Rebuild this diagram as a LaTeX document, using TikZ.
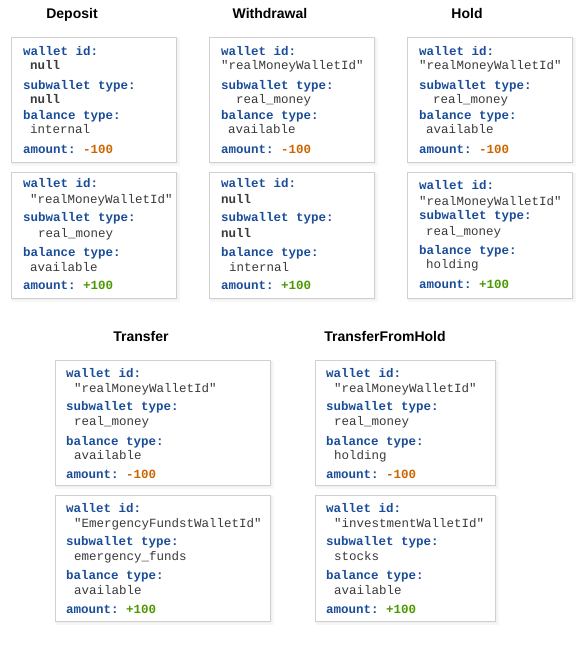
\documentclass[tikz,border=0pt]{standalone}
\usepackage{fontspec}
\setmainfont{Liberation Sans}
\setmonofont{Liberation Mono}
\usetikzlibrary{calc}
\definecolor{keyblue}{HTML}{1A4D99}
\definecolor{valgray}{HTML}{3A3A3A}
\definecolor{negorange}{HTML}{CC6600}
\definecolor{posgreen}{HTML}{4D9900}
\definecolor{boxborder}{HTML}{D0D0D0}
\tikzset{
 title/.style={font=\fontsize{14}{16}\selectfont\bfseries, text=black, anchor=base, inner sep=0},
 card/.style={draw=boxborder, line width=0.9pt, fill=white, anchor=north west, inner sep=0},
 keytxt/.style={font=\ttfamily\bfseries\fontsize{12.5}{14}\selectfont, text=keyblue, anchor=base west, inner sep=0},
 valtxt/.style={font=\ttfamily\fontsize{12.5}{14}\selectfont, text=valgray, anchor=base west, inner sep=0},
 nulltxt/.style={valtxt, font=\ttfamily\bfseries\fontsize{12.5}{14}\selectfont},
}
\newcommand\card[5]{%
 \fill[black!3] (#2+1,#3+1) rectangle (#4+4,#5+4);
 \fill[black!6] (#2+1,#3+1) rectangle (#4+2,#5+2);
 \node[card, minimum width=#4-#2, minimum height=#5-#3] (#1) at (#2,#3) {};}
\newcommand\kv[5]{\node[#4] (#1) at (#2,#3) {#5};}
\begin{document}
\begin{tikzpicture}[x=1pt,y=-1pt]
\useasboundingbox (0,0) rectangle (579,648);
\fill[white] (0,0) rectangle (579,648);
% titles
\node[title] (tdep) at (72,18) {Deposit};
\node[title] (twd) at (270,18) {Withdrawal};
\node[title] (thold) at (467,18) {Hold};
\node[title] (ttr) at (141,341) {Transfer};
\node[title] (ttfh) at (385,341) {TransferFromHold};
% Deposit
\card{d1}{11}{37}{176}{162}
\kv{d1a}{23}{55}{keytxt}{wallet id:}
\kv{d1b}{30}{69}{nulltxt}{null}
\kv{d1c}{23}{89}{keytxt}{subwallet type:}
\kv{d1d}{30}{103}{nulltxt}{null}
\kv{d1e}{23}{119}{keytxt}{balance type:}
\kv{d1f}{30}{133}{valtxt}{internal}
\kv{d1g}{23}{153}{keytxt}{amount: \textcolor{negorange}{-100}}
\card{d2}{11}{172}{176}{298}
\kv{d2a}{23}{187}{keytxt}{wallet id:}
\kv{d2b}{30}{203}{valtxt}{"realMoneyWalletId"}
\kv{d2c}{23}{221}{keytxt}{subwallet type:}
\kv{d2d}{38}{237}{valtxt}{real\_money}
\kv{d2e}{23}{256}{keytxt}{balance type:}
\kv{d2f}{30}{271}{valtxt}{available}
\kv{d2g}{23}{289}{keytxt}{amount: \textcolor{posgreen}{+100}}
% Withdrawal
\card{w1}{209}{37}{374}{162}
\kv{w1a}{221}{55}{keytxt}{wallet id:}
\kv{w1b}{221}{69}{valtxt}{"realMoneyWalletId"}
\kv{w1c}{221}{89}{keytxt}{subwallet type:}
\kv{w1d}{236}{103}{valtxt}{real\_money}
\kv{w1e}{221}{119}{keytxt}{balance type:}
\kv{w1f}{228}{133}{valtxt}{available}
\kv{w1g}{221}{153}{keytxt}{amount: \textcolor{negorange}{-100}}
\card{w2}{209}{172}{374}{298}
\kv{w2a}{221}{187}{keytxt}{wallet id:}
\kv{w2b}{221}{203}{nulltxt}{null}
\kv{w2c}{221}{221}{keytxt}{subwallet type:}
\kv{w2d}{221}{237}{nulltxt}{null}
\kv{w2e}{221}{256}{keytxt}{balance type:}
\kv{w2f}{229}{271}{valtxt}{internal}
\kv{w2g}{221}{289}{keytxt}{amount: \textcolor{posgreen}{+100}}
% Hold
\card{h1}{407}{37}{572}{162}
\kv{h1a}{419}{55}{keytxt}{wallet id:}
\kv{h1b}{419}{69}{valtxt}{"realMoneyWalletId"}
\kv{h1c}{419}{89}{keytxt}{subwallet type:}
\kv{h1d}{433}{103}{valtxt}{real\_money}
\kv{h1e}{419}{119}{keytxt}{balance type:}
\kv{h1f}{426}{133}{valtxt}{available}
\kv{h1g}{419}{153}{keytxt}{amount: \textcolor{negorange}{-100}}
\card{h2}{407}{172}{572}{298}
\kv{h2a}{419}{189}{keytxt}{wallet id:}
\kv{h2b}{419}{205}{valtxt}{"realMoneyWalletId"}
\kv{h2c}{419}{219}{keytxt}{subwallet type:}
\kv{h2d}{426}{235}{valtxt}{real\_money}
\kv{h2e}{419}{254}{keytxt}{balance type:}
\kv{h2f}{426}{268}{valtxt}{holding}
\kv{h2g}{419}{288}{keytxt}{amount: \textcolor{posgreen}{+100}}
% Transfer
\card{t1}{55}{360}{270}{485}
\kv{t1a}{66}{377}{keytxt}{wallet id:}
\kv{t1b}{74}{392}{valtxt}{"realMoneyWalletId"}
\kv{t1c}{66}{410}{keytxt}{subwallet type:}
\kv{t1d}{74}{425}{valtxt}{real\_money}
\kv{t1e}{66}{445}{keytxt}{balance type:}
\kv{t1f}{74}{459}{valtxt}{available}
\kv{t1g}{66}{478}{keytxt}{amount: \textcolor{negorange}{-100}}
\card{t2}{55}{495}{270}{621}
\kv{t2a}{66}{512}{keytxt}{wallet id:}
\kv{t2b}{74}{527}{valtxt}{"EmergencyFundstWalletId"}
\kv{t2c}{66}{545}{keytxt}{subwallet type:}
\kv{t2d}{74}{560}{valtxt}{emergency\_funds}
\kv{t2e}{66}{579}{keytxt}{balance type:}
\kv{t2f}{74}{594}{valtxt}{available}
\kv{t2g}{66}{613}{keytxt}{amount: \textcolor{posgreen}{+100}}
% TransferFromHold
\card{f1}{315}{360}{495}{485}
\kv{f1a}{326}{377}{keytxt}{wallet id:}
\kv{f1b}{334}{392}{valtxt}{"realMoneyWalletId"}
\kv{f1c}{326}{410}{keytxt}{subwallet type:}
\kv{f1d}{334}{425}{valtxt}{real\_money}
\kv{f1e}{326}{445}{keytxt}{balance type:}
\kv{f1f}{334}{459}{valtxt}{holding}
\kv{f1g}{326}{478}{keytxt}{amount: \textcolor{negorange}{-100}}
\card{f2}{315}{495}{495}{621}
\kv{f2a}{326}{512}{keytxt}{wallet id:}
\kv{f2b}{334}{527}{valtxt}{"investmentWalletId"}
\kv{f2c}{326}{545}{keytxt}{subwallet type:}
\kv{f2d}{334}{560}{valtxt}{stocks}
\kv{f2e}{326}{579}{keytxt}{balance type:}
\kv{f2f}{334}{594}{valtxt}{available}
\kv{f2g}{326}{613}{keytxt}{amount: \textcolor{posgreen}{+100}}
\end{tikzpicture}
\end{document}
